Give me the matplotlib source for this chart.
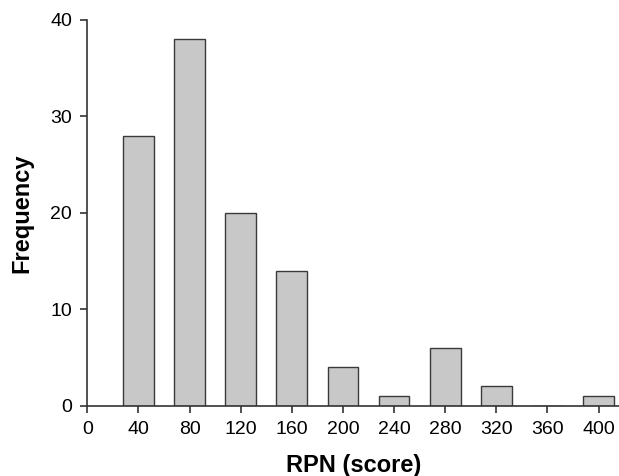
import numpy as np
import matplotlib.pyplot as plt

plt.rcParams['font.family'] = ['Liberation Sans', 'DejaVu Sans']

bin_centers = [40, 80, 120, 160, 200, 240, 280, 320, 360, 400]
frequency = [28, 38, 20, 14, 4, 1, 6, 2, 0, 1]
x_ticks = [0, 40, 80, 120, 160, 200, 240, 280, 320, 360, 400]
y_ticks = [0, 10, 20, 30, 40]

fig = plt.figure(figsize=(6.19, 4.76), dpi=100)
ax = fig.add_axes([0.141, 0.148, 0.859, 0.81])

ax.bar(bin_centers, frequency, width=24, color='#c8c8c8', edgecolor='#3a3a3a', linewidth=1.0)

ax.set_xlim(0, 416)
ax.set_ylim(0, 40)
ax.set_xticks(x_ticks)
ax.set_yticks(y_ticks)
ax.tick_params(direction='out', length=5, width=1.2, color='#333333', labelsize=14, pad=6)

for side in ['top', 'right']:
    ax.spines[side].set_visible(False)
for side in ['left', 'bottom']:
    ax.spines[side].set_color('#333333')
    ax.spines[side].set_linewidth(1.2)

ax.set_xlabel('RPN (score)', fontsize=17, fontweight='bold', labelpad=12)
ax.set_ylabel('Frequency', fontsize=17, fontweight='bold', labelpad=12)

fig.savefig('out.png', dpi=100)
